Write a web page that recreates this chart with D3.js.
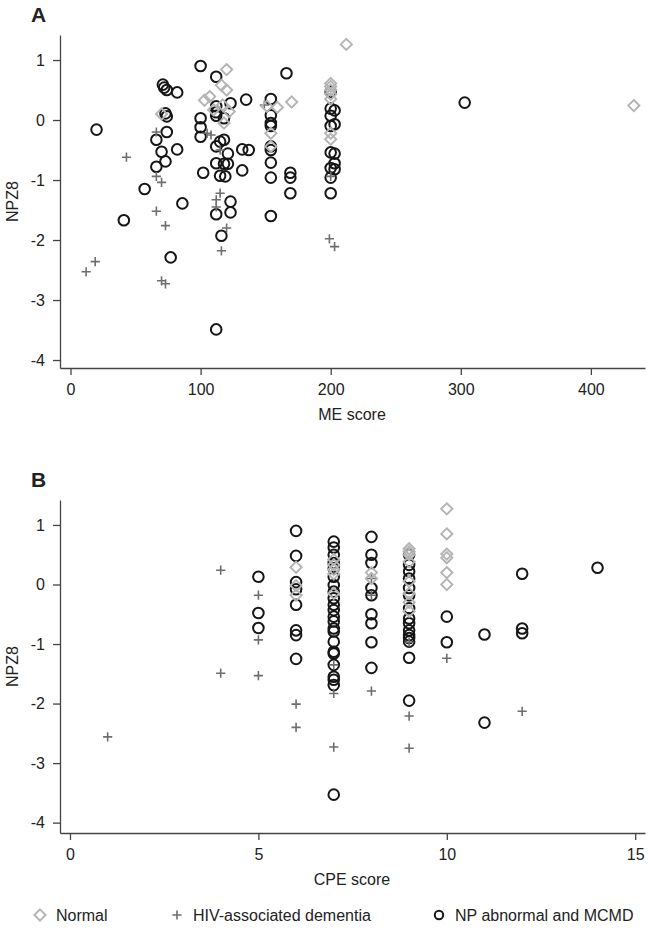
<!DOCTYPE html>
<html>
<head>
<meta charset="utf-8">
<script src="https://cdn.jsdelivr.net/npm/d3@7"></script>
<style>
  body { margin: 0; background: #fff; }
  svg { display: block; font-family: "Liberation Sans", Arial, sans-serif; }
  .axis path, .axis line { stroke: #444; stroke-width: 1.3; }
  .axis text { font-size: 16px; fill: #222; }
</style>
</head>
<body>
<div id="chart-area"></div>
<script>
// Panel A: ME score vs NPZ8, [x, y]
var normalA = [[70,0.1],[103,0.33],[107,0.39],[110,0.17],[116,0.58],[117,0.25],[118,-0.05],[120,0.84],
  [120,0.5],[122,0.14],[151,0.23],[154,-0.22],[154,-0.44],[159,0.21],[170,0.3],[200,0.61],[200,0.56],
  [200,0.5],[200,0.43],[200,0.35],[200,-0.22],[200,-0.32],[212,1.26],[433,0.24]]

var hadA = [[12,-2.53],[19,-2.36],[43,-0.62],[66,-0.2],[66,-0.94],[66,-1.52],[70,-1.04],[70,-2.68],
  [73,-1.76],[73,-2.73],[105,-0.22],[108,-0.25],[112,-1.33],[112,-1.45],[115,-1.22],[116,-2.18],
  [120,-1.8],[115,-0.5],[149,0.25],[199,-1.98],[203,-2.11],[200,-0.94]]

var npA = [[20,-0.16],[41,-1.67],[57,-1.15],[66,-0.78],[66,-0.33],[70,-0.53],[71,0.59],[72,0.54],
  [74,0.5],[73,0.11],[74,0.06],[74,-0.2],[73,-0.69],[77,-2.29],[82,0.46],[82,-0.49],[86,-1.39],
  [100,0.9],[100,0.03],[100,-0.12],[100,-0.28],[102,-0.88],[112,0.72],[112,0.23],[112,0.13],
  [112,0.07],[112,-0.44],[112,-0.72],[112,-1.57],[112,-3.49],[115,-0.36],[115,-0.93],[116,-1.93],
  [118,0.03],[118,-0.33],[118,-0.73],[119,-0.94],[121,-0.56],[121,-0.73],[123,0.28],[123,-1.36],
  [123,-1.54],[132,-0.49],[132,-0.84],[137,-0.5],[135,0.34],[154,0.35],[154,0.08],[154,-0.05],
  [154,-0.1],[154,-0.44],[154,-0.5],[154,-0.71],[154,-0.96],[154,-1.6],[166,0.78],[169,-0.88],
  [169,-0.96],[169,-1.22],[200,0.47],[200,0.19],[200,0.07],[200,-0.1],[200,-0.54],[200,-0.8],
  [200,-0.96],[200,-1.22],[203,0.16],[203,-0.07],[203,-0.56],[203,-0.72],[203,-0.82],[303,0.29]]

// Panel B: CPE score vs NPZ8
var normalB = [[6,0.29],[6,-0.02],[6,-0.18],[7,0.42],[7,0.33],[7,0.25],[7,0.18],[7,-0.15],[8,0.2],
  [8,0.1],[9,0.6],[9,0.55],[9,0.5],[9,0.38],[9,0.05],[9,-0.15],[9,-0.3],[9,-0.45],[10,1.27],
  [10,0.85],[10,0.51],[10,0.45],[10,0.2],[10,0.0]]

var hadB = [[1,-2.56],[4,0.24],[4,-1.49],[5,-0.18],[5,-0.93],[5,-1.53],[6,-2.01],[6,-2.4],[7,-1.35],
  [7,-1.83],[7,-2.73],[8,0.1],[8,-0.18],[8,-1.79],[9,-0.97],[9,-2.21],[9,-2.75],[10,-1.24],[12,-2.13]]

var npB = [[5,0.13],[5,-0.48],[5,-0.73],
  [6,0.9],[6,0.48],[6,0.04],[6,-0.08],[6,-0.34],[6,-0.77],[6,-0.85],[6,-1.25],
  [7,0.72],[7,0.62],[7,0.5],[7,0.36],[7,0.27],[7,0.13],[7,-0.01],[7,-0.12],[7,-0.23],[7,-0.34],
  [7,-0.43],[7,-0.54],[7,-0.62],[7,-0.74],[7,-0.79],[7,-0.96],[7,-1.13],[7,-1.16],[7,-1.35],
  [7,-1.55],[7,-1.6],[7,-1.69],[7,-3.53],
  [8,0.8],[8,0.5],[8,0.36],[8,-0.06],[8,-0.18],[8,-0.5],[8,-0.65],[8,-0.97],[8,-1.4],
  [9,0.5],[9,0.33],[9,0.22],[9,0.1],[9,-0.06],[9,-0.18],[9,-0.4],[9,-0.57],[9,-0.65],[9,-0.77],
  [9,-0.85],[9,-0.9],[9,-0.96],[9,-1.23],[9,-1.95],
  [10,-0.54],[10,-0.97],[11,-0.84],[11,-2.32],[12,0.18],[12,-0.74],[12,-0.82],[14,0.28]]

var yTicks = [-4, -3, -2, -1, 0, 1]
var xTicksA = [0, 100, 200, 300, 400]
var xTicksB = [0, 5, 10, 15]
var legendLabels = ['Normal', 'HIV-associated dementia', 'NP abnormal and MCMD']

var colNormal = '#b4b4b4', colHad = '#6e6e6e', colNp = '#161616'

var svg = d3.select('#chart-area')
  .append('svg')
    .attr('width', 651)
    .attr('height', 937)

function diamond(sel) {
  sel.append('path')
    .attr('d', 'M0,-5.6L5.6,0L0,5.6L-5.6,0Z')
    .attr('fill', 'none')
    .attr('stroke', colNormal)
    .attr('stroke-width', 1.9)
}
function plus(sel) {
  sel.append('path')
    .attr('d', 'M-4.6,0H4.6M0,-4.6V4.6')
    .attr('stroke', colHad)
    .attr('stroke-width', 1.6)
}
function circle(sel, r) {
  sel.append('circle')
    .attr('r', r || 5.3)
    .attr('fill', 'none')
    .attr('stroke', colNp)
    .attr('stroke-width', 2)
}

function panel(p) {
  var x = d3.scaleLinear().domain(p.xDomain).range([60, 645])
  var y = d3.scaleLinear().domain(p.yDomain).range([p.bottom, p.top])

  svg.append('text')
    .attr('x', 31)
    .attr('y', p.top - 13)
    .attr('font-size', '21px')
    .attr('font-weight', 'bold')
    .attr('fill', '#222')
    .text(p.label)

  svg.append('g')
    .attr('class', 'axis')
    .attr('transform', 'translate(60,0)')
    .call(d3.axisLeft(y).tickValues(yTicks).tickFormat(d => String(d))
      .tickSize(7).tickSizeOuter(0).tickPadding(8))

  svg.append('g')
    .attr('class', 'axis')
    .attr('transform', 'translate(0,' + p.bottom + ')')
    .call(d3.axisBottom(x).tickValues(p.xTicks).tickFormat(d => String(d))
      .tickSize(7).tickSizeOuter(0).tickPadding(9))

  svg.append('text')
    .attr('x', -(p.top + p.bottom) / 2)
    .attr('y', 18)
    .attr('transform', 'rotate(-90)')
    .attr('text-anchor', 'middle')
    .attr('font-size', '16px')
    .attr('fill', '#222')
    .text('NPZ8')

  svg.append('text')
    .attr('x', 352)
    .attr('y', p.bottom + 52)
    .attr('text-anchor', 'middle')
    .attr('font-size', '16px')
    .attr('fill', '#222')
    .text(p.xTitle)

  var g = svg.append('g')
  g.selectAll('.np').data(p.np).enter().append('g')
    .attr('transform', d => 'translate(' + x(d[0]) + ',' + y(d[1]) + ')')
    .call(circle)
  g.selectAll('.had').data(p.had).enter().append('g')
    .attr('transform', d => 'translate(' + x(d[0]) + ',' + y(d[1]) + ')')
    .call(plus)
  g.selectAll('.normal').data(p.normal).enter().append('g')
    .attr('transform', d => 'translate(' + x(d[0]) + ',' + y(d[1]) + ')')
    .call(diamond)
}

panel({ label: 'A', top: 35, bottom: 368, xDomain: [-8.07, 441.6], yDomain: [-4.133, 1.417],
  xTicks: xTicksA, xTitle: 'ME score', normal: normalA, had: hadA, np: npA })
panel({ label: 'B', top: 500, bottom: 833, xDomain: [-0.265, 15.26], yDomain: [-4.174, 1.419],
  xTicks: xTicksB, xTitle: 'CPE score', normal: normalB, had: hadB, np: npB })

// legend
var legend = svg.append('g').attr('transform', 'translate(0,915)')
var lx = [40, 177, 439]
var drawers = [diamond, plus, s => circle(s, 4.2)]
legendLabels.forEach((t, i) => {
  legend.append('g').attr('transform', 'translate(' + lx[i] + ',0)').call(drawers[i])
  legend.append('text')
    .attr('x', lx[i] + 16)
    .attr('y', 6)
    .attr('font-size', '16px')
    .attr('fill', '#222')
    .text(t)
})
</script>
</body>
</html>
